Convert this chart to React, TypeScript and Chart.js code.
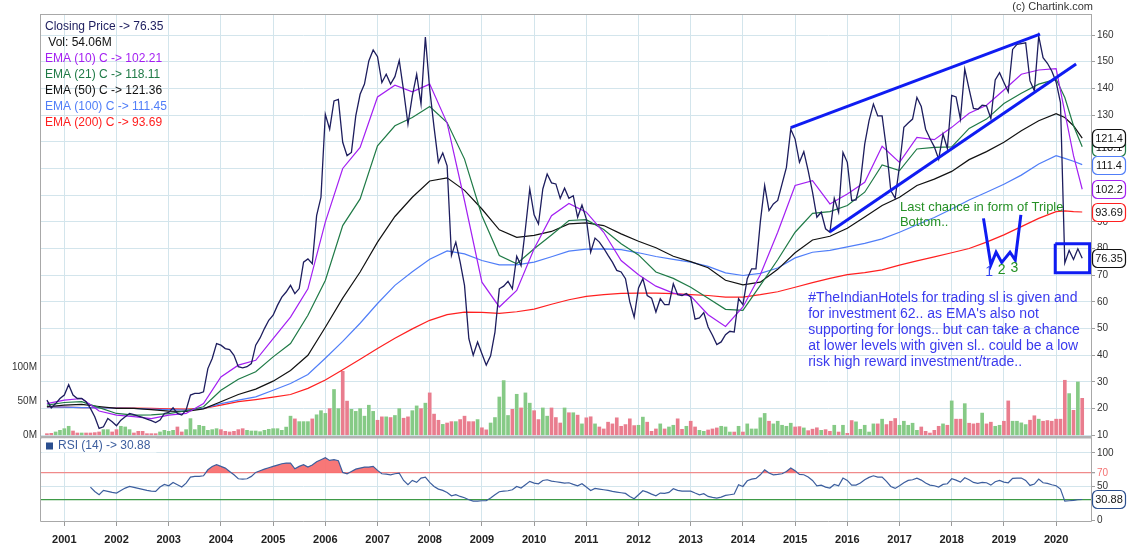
import { useEffect, useRef } from 'react';
import { Chart, registerables } from 'chart.js';

Chart.register(...registerables);

const FONT = '"Liberation Sans", Arial, Helvetica, sans-serif';
Chart.defaults.font.family = FONT;
Chart.defaults.color = '#333';

// ---------- data (month index 0 = Sep 2000, monthly) ----------
const startYear = 2000;
const startMonth = 9;
const yearLabels = ['2001', '2002', '2003', '2004', '2005', '2006', '2007', '2008', '2009', '2010',
  '2011', '2012', '2013', '2014', '2015', '2016', '2017', '2018', '2019', '2020'];
const yearTickMonths = yearLabels.map((y) => (Number(y) - startYear) * 12 - (startMonth - 1));
const priceTicks = [10, 20, 30, 40, 50, 60, 70, 80, 90, 100, 110, 120, 130, 140, 150, 160];
const volumeTicksM = [0, 50, 100];
const rsiTicks = [0, 30, 50, 70, 100];

const closeValues = [
  23.2, 20.3, 21.9, 23.8, 25.1, 29.0, 25.1, 23.8, 23.8, 22.6,
  20.1, 17.0, 12.6, 13.2, 16.3, 15.1, 13.6, 15.7, 17.0, 18.2,
  17.8, 17.2, 16.7, 16.1, 15.5, 14.8, 15.7, 18.2, 18.6, 20.3,
  18.2, 17.6, 19.5, 25.1, 25.7, 25.7, 26.3, 35.0, 38.8, 44.4,
  43.8, 42.5, 42.1, 40.0, 35.7, 35.3, 35.7, 36.9, 43.8, 46.5,
  50.0, 53.1, 55.0, 58.7, 61.8, 63.7, 66.2, 63.1, 65.0, 74.9,
  76.1, 74.3, 92.3, 99.2, 130.3, 124.7, 135.3, 135.9, 119.8, 114.8,
  116.0, 129.7, 137.8, 141.6, 150.3, 154.4, 151.9, 142.2, 145.3, 141.6,
  144.4, 150.5, 139.1, 126.6, 137.2, 145.3, 134.1, 159.2, 139.7, 125.4,
  112.3, 115.8, 111.0, 77.4, 82.4, 74.9, 66.2, 46.2, 40.0, 45.0,
  40.6, 36.3, 39.8, 48.7, 64.9, 65.9, 67.7, 64.9, 77.1, 73.6,
  87.4, 102.3, 92.6, 89.2, 102.3, 107.9, 104.6, 104.2, 98.8, 102.6,
  98.8, 99.8, 91.7, 96.3, 91.1, 78.6, 83.9, 82.4, 80.1, 77.4,
  74.9, 71.8, 71.2, 68.7, 60.0, 54.3, 65.2, 68.7, 62.4, 61.4,
  56.2, 61.2, 59.0, 59.0, 66.8, 62.7, 62.4, 63.1, 61.8, 53.5,
  54.0, 56.0, 50.6, 47.5, 44.0, 45.0, 47.7, 49.0, 48.7, 61.2,
  59.0, 68.7, 72.4, 72.4, 89.9, 103.6, 94.2, 96.7, 98.0, 104.2,
  110.4, 124.7, 121.0, 112.3, 116.3, 109.2, 101.1, 91.7, 93.6, 87.4,
  86.1, 98.8, 93.6, 116.0, 112.3, 98.0, 98.2, 104.8, 119.1, 127.9,
  134.1, 129.7, 129.7, 117.3, 101.7, 98.8, 111.0, 125.4, 127.0, 128.5,
  136.6, 133.2, 124.7, 121.2, 118.1, 113.5, 122.9, 117.5, 137.4, 136.8,
  128.5, 147.2, 139.7, 132.5, 132.2, 133.7, 133.5, 128.7, 143.2, 145.9,
  142.2, 138.7, 154.6, 156.5, 156.8, 157.1, 142.8, 139.1, 159.6, 151.5,
  149.4, 146.5, 142.4, 134.7, 74.6, 79.3, 75.9, 79.9, 76.35,
];

// volume in millions
const volumeM = [
  2.4, 2.9, 4.9, 7.3, 9.7, 13.2, 6.3, 3.4, 3.4, 3.4,
  3.4, 3.9, 4.9, 8.3, 8.3, 4.9, 8.3, 13.2, 12.2, 8.3,
  3.4, 5.8, 5.8, 2.4, 2.4, 2.4, 4.9, 7.3, 5.8, 7.3,
  12.2, 4.9, 8.3, 24.4, 8.3, 14.6, 13.2, 7.3, 8.3, 9.7,
  8.3, 5.8, 4.9, 5.8, 8.3, 9.7, 7.3, 6.3, 6.3, 5.3,
  7.3, 8.8, 9.7, 9.7, 7.3, 12, 28, 24, 20, 20,
  20, 24, 30, 36, 32, 39, 67, 39, 93.6, 50,
  38, 35, 39, 28, 44, 35, 22, 27, 27, 26,
  29, 39, 25, 27, 36, 43, 39, 47, 62, 31,
  22, 16, 18, 20, 20, 23, 28, 20, 20, 23,
  11, 8, 18, 26, 56, 80, 29, 38, 60, 40,
  62, 47, 36, 23, 40, 28, 40, 26, 18, 40,
  33, 33, 29.5, 16.7, 25.6, 27.1, 16.7, 12.2, 9.3, 19.2,
  16.7, 25.6, 13.2, 15.7, 24.1, 14.2, 14.7, 26.6, 19.2, 5.8,
  9.3, 16.7, 9.3, 12.2, 14.7, 24.1, 8.8, 13.2, 20.6, 12.2,
  7.3, 5.8, 7.8, 9.3, 10.8, 13.2, 12.2, 4.8, 4.8, 13.2,
  4.8, 16.7, 9.3, 9.3, 25.6, 32, 20.6, 16.7, 20.6, 14.7,
  13.2, 17.7, 12.2, 12.7, 10.8, 6.8, 9, 11, 7.3, 8.3,
  5.8, 14.7, 4.8, 14.7, 2.9, 21.6, 19.7, 8.8, 14.7, 4.8,
  16.7, 16.7, 23.6, 15.7, 20.6, 24.6, 14.7, 20.6, 14.7, 17.7,
  7.3, 12.2, 5.8, 3.3, 7.3, 13.2, 16.7, 14.7, 50.3, 23.6,
  23.6, 46.3, 17.7, 16.7, 17.7, 32.5, 16.7, 19.2, 13.2, 14.7,
  20.6, 50.3, 20.6, 20.6, 18.2, 15.7, 22.1, 28.6, 23.6, 20.6,
  21.6, 20.6, 23.6, 23.6, 80.5, 61, 36.5, 78, 54.06,
];

// EMA readings at these month indices
const emaMonths = [
  0, 4, 8, 12, 16, 20, 24, 28, 32, 36, 40, 44, 48, 52, 56, 60, 64, 68, 72, 76,
  80, 84, 88, 92, 96, 100, 104, 108, 112, 116, 120, 124, 128, 132, 136, 140, 144, 148, 152, 156,
  160, 164, 168, 172, 176, 180, 184, 188, 192, 196, 200, 204, 208, 212, 216, 220, 224, 228, 232, 234,
  236, 238,
];
const ema10 = [
  21.9, 23.2, 23.8, 19.1, 17.6, 17.0, 16.3, 17.6, 18.2, 21.9, 31.9, 36.3, 38.1, 46.2, 54.3, 64.9, 89.9, 110, 117.9, 136.8,
  141.2, 138.7, 141.6, 127, 97.9, 67.4, 58.1, 64.3, 79.9, 92.3, 96.9, 93.6, 86.1, 75.5, 70.2, 65.9, 63.3, 62.2, 55.2, 50.8,
  58.1, 70.2, 86.1, 103.6, 105.4, 96.7, 100.4, 104.8, 118.3, 112.3, 121.6, 120.8, 125.4, 130.7, 133.7, 139.4, 145.3, 146.9, 147.4, 131,
  114.8, 102.21,
];
const ema21 = [
  21.3, 22.3, 22.6, 20.4, 18.2, 17.6, 17.7, 18.1, 19.2, 20.7, 26.9, 31.0, 33.8, 39.4, 44.4, 55, 68, 88.6, 98.6, 118.5,
  126, 129.1, 133.2, 127.2, 113.5, 92.3, 77.4, 74.3, 79.9, 85.1, 90.5, 90.8, 87.1, 81.8, 77.6, 71.2, 68.8, 65.5, 61.4, 57.2,
  56.8, 66.2, 75.8, 86.1, 93.2, 93.8, 96.1, 101.1, 111.3, 109.2, 117.3, 117.9, 118.1, 125, 128.5, 134.3, 138.2, 141.6, 143.4, 136.6,
  126, 118.11,
];
const ema50 = [
  20.7, 21.3, 21.6, 20.8, 20.1, 20.1, 19.6, 19.1, 19.0, 19.9, 22.6, 25.3, 27.3, 30.3, 34.3, 40, 50.5, 61.4, 71.2, 82.4,
  92, 99.2, 105.3, 106.5, 101.8, 94.8, 87, 84.2, 84.9, 86.4, 89.2, 89.6, 88.6, 85.5, 82.7, 80.3, 77.1, 75.1, 72.8, 68.1,
  66.4, 67.4, 72.2, 78.4, 83.2, 84.6, 87.6, 91.8, 96.1, 99.2, 103.6, 106.0, 108.9, 113.3, 116.3, 119.8, 124.1, 127.9, 130.5, 129.1,
  126, 121.36,
];
const ema100 = [
  20.7, 20.6, 20.4, 20.3, 20.2, 20.1, 19.8, 19.6, 19.5, 20.1, 21.9, 23.2, 24.4, 26.9, 29.4, 32.8, 38.9, 45.2, 52, 59.4,
  66.2, 71.3, 76, 79.1, 78, 75.5, 73.9, 73.9, 74.9, 76.9, 79, 79.8, 79.9, 79.6, 78.4, 77, 75.9, 74.9, 73.3, 70.9,
  69.9, 70.7, 72.7, 76.5, 78.6, 79.3, 80.6, 81.9, 83.6, 86.1, 88.9, 91.6, 94.8, 98.2, 101.1, 104.1, 107.5, 111.7, 114.8, 113.8,
  112.7, 111.447,
];
const ema200 = [
  20.7, 20.6, 20.4, 20.4, 20.3, 20.2, 20.1, 19.9, 19.8, 20.1, 21.3, 22.6, 23.4, 24.3, 25.3, 27.6, 30.7, 34.6, 38.5, 42.5,
  46.4, 49.9, 53.1, 55.2, 56.2, 56.1, 55.7, 56.3, 57.3, 59.1, 60.8, 62.1, 62.7, 63.2, 63.3, 63.3, 63.1, 62.7, 62.4, 61.8,
  61.8, 62.7, 63.8, 65.5, 67.2, 68.8, 70.2, 71.0, 72, 73.8, 75.4, 76.9, 78.4, 80, 82.4, 85.1, 88.2, 91.3, 93.8, 94.1,
  93.8, 93.69,
];

const rsiStart = 10;
const rsiValues = [
  49.3, 42.8, 37.9, 44.3, 42.8, 41.3, 40.4, 44.3, 47.8, 50.2,
  48.8, 47.3, 45.8, 44.3, 43.3, 42.8, 49.3, 53.2, 51.2, 56.2,
  52.7, 49.3, 55.2, 64.1, 65.1, 65.1, 66, 74.9, 79.9, 82.4,
  79.9, 77.4, 72.5, 67.5, 61.6, 61.1, 61.6, 65.1, 71, 73.5,
  75.9, 77.9, 79.9, 81.9, 83.8, 84.8, 84.8, 76.4, 79.9, 82.4,
  78.9, 81.9, 86.8, 89.8, 92.7, 88.8, 89.8, 88.3, 71, 69,
  72.5, 75.9, 77.4, 78.9, 78.9, 79.9, 74, 69, 68.5, 67.5,
  69, 70, 59.1, 52.7, 59.1, 56.2, 62.6, 64.1, 56.2, 50.2,
  46.3, 44.3, 41.3, 36.4, 37.9, 35.4, 33.4, 30.5, 28.5, 28.5,
  29, 29, 33, 37.9, 42.3, 43.3, 43.8, 45.3, 50.2, 47.8,
  52.7, 57.7, 55.2, 54.2, 59.1, 60.1, 58.1, 57.2, 56.2, 55.2,
  55.7, 53.2, 51.2, 54.2, 49.3, 44.3, 47.3, 46.3, 45.3, 44.3,
  42.8, 41.8, 40.9, 39.9, 35.4, 32, 37.9, 43.8, 41.8, 38.9,
  36.4, 40.4, 39.9, 41.3, 46.8, 44.3, 43.3, 43.3, 43.3, 40.4,
  37.9, 39.4, 35.4, 33.9, 32.9, 34.4, 36.9, 37.9, 38.9, 52.7,
  50.2, 58.6, 61.1, 62.1, 67.5, 74.9, 70, 67.5, 68, 69,
  72.5, 77.4, 73.5, 68, 67.5, 64.1, 59.1, 51.2, 52.2, 49.3,
  47.8, 53.2, 51.2, 62.6, 59.1, 52.2, 52.2, 55.2, 60.1, 63.6,
  66, 64.1, 64.1, 57.7, 50.2, 47.3, 51.2, 55.7, 59.1, 60.1,
  62.6, 59.6, 55.2, 52.2, 51.2, 49.3, 53.2, 54.2, 61.6, 59.6,
  56.7, 63.1, 60.1, 56.2, 54.7, 56.2, 55.7, 52.2, 57.2, 59.1,
  56.7, 55.7, 62.1, 62.6, 62.6, 59.1, 51.7, 53.7, 61.1, 55.7,
  54.7, 52.7, 51.2, 46.3, 28.5, 29, 29.5, 30.5, 30.88,
];

// hand-drawn annotations in (month index, price)
const wedgeUpper = [[171.0, 125.3], [228.3, 160.3]];
const wedgeLower = [[180.0, 86.3], [236.6, 149.1]];
const tripleBottom = [[215.3, 91.3], [217.0, 73.8], [218.2, 78.6], [219.5, 74.8], [221.4, 78.6], [222.6, 75.7], [223.9, 92.6]];
const focusBox = [[231.8, 81.8], [239.7, 81.8], [239.7, 70.9], [231.8, 70.9], [231.8, 81.8]];
const noteLines = [
  '#TheIndianHotels for trading sl is given and',
  "for investment 62.. as EMA's also not",
  'supporting for longs.. but can take a chance',
  'at lower levels with given sl.. could be a low',
  'risk high reward investment/trade..',
];
const noteAnchor = [175.0, 61.4];
const patternLines = ['Last chance in form of Triple', 'Bottom..'];
const patternAnchor = [196.1, 95.5];
const bottomMarks = [
  { text: '1', at: [216.6, 71.3], color: '#3346f0' },
  { text: '2', at: [219.5, 71.8], color: '#239123' },
  { text: '3', at: [222.4, 72.6], color: '#239123' },
];

// ---------- style ----------
const X_MIN = -1.36;
const X_MAX = 240.02;
const C = {
  close: '#1d1d5e', ema10: '#a31ff2', ema21: '#1f7a46', ema50: '#111111', ema100: '#507ef8', ema200: '#ff2020',
  volUp: '#86ca86', volDown: '#e97d8e', grid: '#d3e5ec', frame: '#a8a8a8', annot: '#0f1cf2',
  note: '#3a3aee', pattern: '#259025', rsi: '#3c5e9e', rsiFill: 'rgba(248,112,112,0.95)',
};

const last = (a: number[]) => a[a.length - 1];
const emaPts = (vals: number[]) => vals.map((y, i) => ({ x: emaMonths[i], y }));
const pairPts = (vals: number[][]) => vals.map(([x, y]) => ({ x, y }));

function drawBadge(ctx: any, x: number, yMid: number, text: string, color: string) {
  const w = 33, h = 18;
  const top = Math.round(yMid - h / 2) + 0.5;
  ctx.beginPath();
  ctx.roundRect(x + 0.5, top, w, h, 5);
  ctx.fillStyle = '#ffffff';
  ctx.fill();
  ctx.lineWidth = 1.2;
  ctx.strokeStyle = color;
  ctx.stroke();
  ctx.fillStyle = '#151515';
  ctx.font = `11px ${FONT}`;
  ctx.textAlign = 'center';
  ctx.textBaseline = 'middle';
  ctx.fillText(text, x + 0.5 + w / 2, top + h / 2 + 0.5);
}

const fmtBadge = (v: number) => v.toPrecision(4);

const mainDecor = {
  id: 'mainDecor',
  afterDraw(chart: any) {
    const { ctx, chartArea: a, scales } = chart;
    const xs = scales.x;
    const ys = scales.yPrice;
    ctx.save();
    // frame
    ctx.strokeStyle = C.frame;
    ctx.lineWidth = 1;
    ctx.strokeRect(a.left - 0.5, a.top - 0.5, a.right - a.left + 1, a.bottom - a.top + 1);

    // legend
    const legendRows = [
      { t: `Closing Price -> ${last(closeValues).toFixed(2)}`, c: C.close },
      { t: ` Vol: ${last(volumeM).toFixed(2)}M`, c: '#111' },
      { t: `EMA (10) C -> ${last(ema10).toFixed(2)}`, c: C.ema10 },
      { t: `EMA (21) C -> ${last(ema21).toFixed(2)}`, c: C.ema21 },
      { t: `EMA (50) C -> ${last(ema50).toFixed(2)}`, c: C.ema50 },
      { t: `EMA (100) C -> ${last(ema100).toFixed(2)}`, c: C.ema100 },
      { t: `EMA (200) C -> ${last(ema200).toFixed(2)}`, c: C.ema200 },
    ];
    ctx.font = `12px ${FONT}`;
    ctx.textAlign = 'left';
    ctx.textBaseline = 'middle';
    legendRows.forEach((r, i) => {
      ctx.fillStyle = r.c;
      ctx.fillText(r.t, a.left + 4, a.top + 12 + i * 16);
    });

    // copyright
    ctx.font = `11px ${FONT}`;
    ctx.fillStyle = '#333';
    ctx.textAlign = 'right';
    ctx.fillText('(c) Chartink.com', 1093, 7);

    // notes
    ctx.textAlign = 'left';
    ctx.font = `14px ${FONT}`;
    ctx.fillStyle = C.note;
    const nx = xs.getPixelForValue(noteAnchor[0]);
    const ny = ys.getPixelForValue(noteAnchor[1]);
    noteLines.forEach((l, i) => ctx.fillText(l, nx, ny + i * 16));

    ctx.font = `13px ${FONT}`;
    ctx.fillStyle = C.pattern;
    const px = xs.getPixelForValue(patternAnchor[0]);
    const py = ys.getPixelForValue(patternAnchor[1]);
    patternLines.forEach((l, i) => ctx.fillText(l, px, py + i * 15));

    ctx.font = `14px ${FONT}`;
    ctx.textAlign = 'center';
    bottomMarks.forEach((m) => {
      ctx.fillStyle = m.color;
      ctx.fillText(m.text, xs.getPixelForValue(m.at[0]), ys.getPixelForValue(m.at[1]));
    });

    // last-value badges
    const bx = a.right + 1;
    const badges = [
      { v: last(ema10), c: C.ema10 },
      { v: last(ema21), c: C.ema21 },
      { v: last(ema50), c: C.ema50 },
      { v: last(ema100), c: C.ema100 },
      { v: last(ema200), c: C.ema200 },
      { v: last(closeValues), c: '#111' },
    ];
    badges.forEach((b) => drawBadge(ctx, bx, ys.getPixelForValue(b.v), fmtBadge(b.v), b.c));
    ctx.restore();
  },
};

const rsiDecor = {
  id: 'rsiDecor',
  afterDraw(chart: any) {
    const { ctx, chartArea: a, scales } = chart;
    ctx.save();
    // separator between panels
    ctx.fillStyle = '#b2b2b2';
    ctx.fillRect(a.left - 1, a.top - 2, a.right - a.left + 2, 2.5);
    // frame
    ctx.strokeStyle = C.frame;
    ctx.lineWidth = 1;
    ctx.beginPath();
    ctx.moveTo(a.left - 0.5, a.top);
    ctx.lineTo(a.left - 0.5, a.bottom + 0.5);
    ctx.lineTo(a.right + 0.5, a.bottom + 0.5);
    ctx.lineTo(a.right + 0.5, a.top);
    ctx.stroke();
    // label
    const label = `RSI (14) -> ${last(rsiValues).toFixed(2)}`;
    ctx.font = `12px ${FONT}`;
    const tw = ctx.measureText(label).width;
    ctx.fillStyle = '#ffffff';
    ctx.fillRect(a.left + 1, a.top + 0.5, tw + 22, 14);
    ctx.fillStyle = '#2b4f8f';
    ctx.fillRect(a.left + 5, a.top + 4.5, 7, 7);
    ctx.fillStyle = C.rsi;
    ctx.textAlign = 'left';
    ctx.textBaseline = 'middle';
    ctx.fillText(label, a.left + 17, a.top + 8);
    // badge
    const ys = scales.yRsi;
    drawBadge(ctx, a.right + 1, ys.getPixelForValue(last(rsiValues)), fmtBadge(last(rsiValues)), '#2b4f8f');
    ctx.restore();
  },
};

function MainChart() {
  const ref = useRef<HTMLCanvasElement>(null);
  useEffect(() => {
    const lineDs = (label: string, data: any[], color: string, width: number) => ({
      type: 'line', label, data, borderColor: color, borderWidth: width, pointRadius: 0,
      tension: 0, fill: false, yAxisID: 'yPrice', xAxisID: 'x',
    });
    const chart = new Chart(ref.current as HTMLCanvasElement, {
      type: 'line',
      data: {
        datasets: [
          { ...lineDs('wedgeUpper', pairPts(wedgeUpper), C.annot, 3) },
          { ...lineDs('wedgeLower', pairPts(wedgeLower), C.annot, 3) },
          { ...lineDs('tripleBottom', pairPts(tripleBottom), C.annot, 3), borderJoinStyle: 'miter' },
          { ...lineDs('focusBox', pairPts(focusBox), C.annot, 3), borderJoinStyle: 'miter' },
          lineDs('Close', closeValues.map((y, i) => ({ x: i, y })), C.close, 1.3),
          lineDs('EMA10', emaPts(ema10), C.ema10, 1.2),
          lineDs('EMA21', emaPts(ema21), C.ema21, 1.2),
          lineDs('EMA50', emaPts(ema50), C.ema50, 1.2),
          lineDs('EMA100', emaPts(ema100), C.ema100, 1.2),
          lineDs('EMA200', emaPts(ema200), C.ema200, 1.2),
          {
            type: 'bar', label: 'Volume', yAxisID: 'yVol', xAxisID: 'x',
            data: volumeM.map((y, i) => ({ x: i, y })),
            backgroundColor: volumeM.map((_, i) => (i > 0 && closeValues[i] >= closeValues[i - 1] ? C.volUp : C.volDown)),
            barThickness: 3, borderWidth: 0,
          },
        ] as any,
      },
      options: {
        responsive: false,
        animation: false,
        events: [],
        layout: { padding: { top: 15, left: 0, right: 0, bottom: 0 } },
        plugins: { legend: { display: false }, tooltip: { enabled: false } },
        scales: {
          x: {
            type: 'linear', min: X_MIN, max: X_MAX, offset: false,
            grid: { color: C.grid, drawTicks: false, offset: false },
            border: { display: false },
            ticks: { display: false },
            afterBuildTicks: (s: any) => { s.ticks = yearTickMonths.map((v) => ({ value: v })); },
            afterFit: (s: any) => { s.height = 9; s.paddingLeft = 0; s.paddingRight = 0; },
          },
          yVol: {
            type: 'linear', position: 'left', min: -1, max: 614.5,
            grid: { drawOnChartArea: false, drawTicks: false },
            border: { display: false },
            ticks: { font: { size: 10 }, color: '#333', padding: 4, callback: (v: any) => `${v}M` },
            afterBuildTicks: (s: any) => { s.ticks = volumeTicksM.map((v) => ({ value: v })); },
            afterFit: (s: any) => { s.width = 41; s.paddingTop = 0; s.paddingBottom = 0; },
          },
          yPrice: {
            type: 'linear', position: 'right', min: 9.75, max: 167.5,
            grid: { color: C.grid, tickLength: 4, tickColor: '#a0a0a0' },
            border: { display: false },
            ticks: { font: { size: 10 }, color: '#333', padding: 2 },
            afterBuildTicks: (s: any) => { s.ticks = priceTicks.map((v) => ({ value: v })); },
            afterFit: (s: any) => { s.width = 36; s.paddingTop = 0; s.paddingBottom = 0; },
          },
        },
      } as any,
      plugins: [mainDecor],
    });
    return () => chart.destroy();
  }, []);
  return <canvas ref={ref} width={1127} height={445} style={{ position: 'absolute', left: 0, top: 0 }} />;
}

function RsiChart() {
  const ref = useRef<HTMLCanvasElement>(null);
  useEffect(() => {
    const chart = new Chart(ref.current as HTMLCanvasElement, {
      type: 'line',
      data: {
        datasets: [
          {
            label: 'RSI (14)',
            data: rsiValues.map((y, i) => ({ x: rsiStart + i, y })),
            borderColor: C.rsi, borderWidth: 1.2, pointRadius: 0, tension: 0,
            fill: { target: { value: 70 }, above: C.rsiFill, below: 'rgba(0,0,0,0)' },
            yAxisID: 'yRsi',
          },
        ] as any,
      },
      options: {
        responsive: false,
        animation: false,
        events: [],
        layout: { padding: { top: 2, left: 41, right: 0, bottom: 0 } },
        plugins: { legend: { display: false }, tooltip: { enabled: false } },
        scales: {
          x: {
            type: 'linear', min: X_MIN, max: X_MAX, offset: false,
            grid: { color: C.grid, tickLength: 5, tickColor: '#9a9a9a', offset: false },
            border: { display: false },
            ticks: {
              font: { size: 11, weight: 'bold' }, color: '#222', padding: 7, maxRotation: 0, autoSkip: false,
              callback: (v: any) => yearLabels[yearTickMonths.indexOf(v)] ?? '',
            },
            afterBuildTicks: (s: any) => { s.ticks = yearTickMonths.map((v) => ({ value: v })); },
            afterFit: (s: any) => { s.height = 30; s.paddingLeft = 0; s.paddingRight = 0; },
          },
          yRsi: {
            type: 'linear', position: 'right', min: -1, max: 122,
            grid: {
              color: (c: any) => {
                const v = c.tick && c.tick.value;
                if (v === 70) return '#f08a8a';
                if (v === 30) return '#3e9a46';
                if (v === 0) return 'rgba(0,0,0,0)';
                return C.grid;
              },
              lineWidth: (c: any) => (c.tick && (c.tick.value === 30 || c.tick.value === 70) ? 1.3 : 1),
              tickLength: 4,
              tickColor: (c: any) => (c.tick && c.tick.value === 30 ? 'rgba(0,0,0,0)' : '#a0a0a0'),
            },
            border: { display: false },
            ticks: {
              font: { size: 10 }, padding: 2,
              color: (c: any) => (c.tick && c.tick.value === 70 ? '#f47272' : '#333'),
              callback: (v: any) => (v === 30 ? '' : String(v)),
            },
            afterBuildTicks: (s: any) => { s.ticks = rsiTicks.map((v) => ({ value: v })); },
            afterFit: (s: any) => { s.width = 36; s.paddingTop = 0; s.paddingBottom = 0; },
          },
        },
      } as any,
      plugins: [rsiDecor],
    });
    return () => chart.destroy();
  }, []);
  return <canvas ref={ref} width={1127} height={115} style={{ position: 'absolute', left: 0, top: 436 }} />;
}

export default function App() {
  return (
    <div style={{ position: 'fixed', left: 0, top: 0, width: 1127, height: 551, background: '#ffffff', overflow: 'hidden' }}>
      <MainChart />
      <RsiChart />
    </div>
  );
}
